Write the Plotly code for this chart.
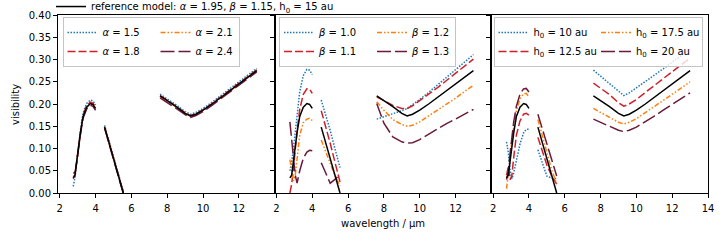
import plotly.graph_objects as go

# wavelength grids of the three spectral segments (micron)
wl_a = [2.75, 2.85, 2.95, 3.05, 3.15, 3.3, 3.5, 3.7, 3.85, 4.0]
wl_b = [4.5, 4.75, 5.0, 5.25, 5.55]
wl_c = [7.6, 8.0, 8.5, 9.0, 9.3, 9.6, 10.0, 10.5, 11.0, 11.5, 12.0, 12.5, 13.0]

# reference model (alpha=1.95, beta=1.15, h0=15 au)
ref_a = [0.034, 0.040, 0.072, 0.105, 0.135, 0.172, 0.193, 0.201, 0.199, 0.190]
ref_b = [0.148, 0.113, 0.078, 0.043, 0.000]
ref_c = [0.218, 0.208, 0.194, 0.179, 0.173, 0.177, 0.186, 0.200, 0.215, 0.230, 0.245, 0.260, 0.275]

# panel 1: alpha
alpha_labels = ["1.5", "1.8", "2.1", "2.4"]
alpha_a = [
    [0.015, 0.035, 0.072, 0.108, 0.140, 0.180, 0.201, 0.209, 0.207, 0.198],
    [0.032, 0.042, 0.073, 0.106, 0.137, 0.175, 0.196, 0.204, 0.202, 0.193],
    [0.036, 0.041, 0.071, 0.104, 0.134, 0.171, 0.192, 0.200, 0.198, 0.189],
    [0.045, 0.046, 0.070, 0.102, 0.131, 0.168, 0.189, 0.197, 0.195, 0.186],
]
alpha_b = [
    [0.152, 0.117, 0.082, 0.046, 0.004],
    [0.149, 0.114, 0.079, 0.043, 0.001],
    [0.147, 0.112, 0.077, 0.041, -0.001],
    [0.146, 0.111, 0.076, 0.040, -0.002],
]
alpha_c = [
    [0.222, 0.212, 0.198, 0.183, 0.177, 0.181, 0.190, 0.204, 0.219, 0.234, 0.249, 0.264, 0.280],
    [0.219, 0.209, 0.195, 0.180, 0.174, 0.178, 0.187, 0.201, 0.216, 0.231, 0.246, 0.261, 0.277],
    [0.217, 0.207, 0.193, 0.178, 0.172, 0.176, 0.185, 0.199, 0.214, 0.229, 0.244, 0.259, 0.274],
    [0.214, 0.204, 0.190, 0.176, 0.170, 0.174, 0.183, 0.197, 0.212, 0.227, 0.242, 0.257, 0.272],
]

# panel 2: beta
beta_labels = ["1.0", "1.1", "1.2", "1.3"]
beta_a = [
    [0.050, 0.070, 0.100, 0.140, 0.180, 0.228, 0.264, 0.278, 0.276, 0.266],
    [0.000, 0.020, 0.055, 0.100, 0.140, 0.188, 0.222, 0.234, 0.234, 0.224],
    [0.075, 0.050, 0.027, 0.040, 0.080, 0.130, 0.158, 0.166, 0.168, 0.163],
    [0.160, 0.125, 0.080, 0.040, 0.022, 0.050, 0.078, 0.092, 0.096, 0.095],
]
beta_b = [
    [0.209, 0.176, 0.141, 0.102, 0.057],
    [0.185, 0.150, 0.112, 0.072, 0.025],
    [0.119, 0.093, 0.067, 0.041, 0.016],
    [0.068, 0.044, 0.022, 0.030, 0.041],
]
beta_c = [
    [0.166, 0.171, 0.178, 0.185, 0.190, 0.198, 0.210, 0.226, 0.243, 0.260, 0.277, 0.294, 0.311],
    [0.216, 0.207, 0.197, 0.190, 0.190, 0.196, 0.207, 0.222, 0.237, 0.253, 0.269, 0.285, 0.301],
    [0.205, 0.186, 0.165, 0.154, 0.150, 0.152, 0.160, 0.173, 0.186, 0.199, 0.213, 0.228, 0.242],
    [0.201, 0.157, 0.126, 0.115, 0.112, 0.113, 0.120, 0.132, 0.144, 0.156, 0.166, 0.177, 0.188],
]

# panel 3: h0
h0_labels = ["10", "12.5", "17.5", "20"]
h0_a = [
    [0.115, 0.090, 0.050, 0.032, 0.045, 0.075, 0.110, 0.135, 0.143, 0.143],
    [0.040, 0.060, 0.030, 0.040, 0.080, 0.130, 0.162, 0.177, 0.179, 0.175],
    [0.010, 0.040, 0.080, 0.120, 0.150, 0.185, 0.212, 0.223, 0.224, 0.215],
    [0.030, 0.050, 0.090, 0.130, 0.160, 0.195, 0.222, 0.234, 0.235, 0.227],
]
h0_b = [
    [0.097, 0.065, 0.038, 0.034, 0.032],
    [0.125, 0.095, 0.063, 0.040, 0.020],
    [0.165, 0.128, 0.090, 0.055, 0.020],
    [0.177, 0.143, 0.108, 0.073, 0.038],
]
h0_c = [
    [0.276, 0.263, 0.247, 0.229, 0.219, 0.225, 0.236, 0.250, 0.265, 0.279, 0.294, 0.309, 0.323],
    [0.247, 0.236, 0.221, 0.203, 0.195, 0.200, 0.210, 0.226, 0.241, 0.257, 0.272, 0.288, 0.303],
    [0.190, 0.181, 0.170, 0.159, 0.155, 0.159, 0.167, 0.180, 0.194, 0.208, 0.222, 0.236, 0.250],
    [0.166, 0.159, 0.150, 0.141, 0.138, 0.141, 0.148, 0.160, 0.173, 0.186, 0.199, 0.212, 0.225],
]

colors = ["#1f77b4", "#d0202a", "#ff7f0e", "#6a1a3a"]
dashes = ["1.5px,1.5px", "8px,3px", "5px,2px,1.5px,2px,1.5px,2px", "14px,4px"]

FONT = "DejaVu Sans"


def join(a, b, c):
    xs = list(wl_a) + [None] + list(wl_b) + [None] + list(wl_c)
    ys = list(a) + [None] + list(b) + [None] + list(c)
    return xs, ys


fig = go.Figure()

panels = [
    ("<i>α</i> = {}", alpha_labels, alpha_a, alpha_b, alpha_c, (48, 38)),
    ("<i>β</i> = {}", beta_labels, beta_a, beta_b, beta_c, (48, 38)),
    ("h<sub>0</sub> = {} au", h0_labels, h0_a, h0_b, h0_c, (57.5, 60)),
]

for p, (fmt, labels, A, B, C, lw) in enumerate(panels):
    xa = "x" if p == 0 else f"x{p+1}"
    ya = "y" if p == 0 else f"y{p+1}"
    leg = f"legend{p+2}"
    for i in range(4):
        xs, ys = join(A[i], B[i], C[i])
        fig.add_trace(go.Scatter(
            x=xs, y=ys, mode="lines", xaxis=xa, yaxis=ya,
            line=dict(color=colors[i], width=1.5, dash=dashes[i]),
            name=fmt.format(labels[i]), legend=leg,
            legendgroup=f"p{p}c{i // 2}", showlegend=True,
            legendwidth=lw[i // 2],
        ))
    xs, ys = join(ref_a, ref_b, ref_c)
    fig.add_trace(go.Scatter(
        x=xs, y=ys, mode="lines", xaxis=xa, yaxis=ya,
        line=dict(color="black", width=1.5),
        name="reference model: <i>α</i> = 1.95, <i>β</i> = 1.15, h<sub>0</sub> = 15 au",
        legend="legend", showlegend=(p == 0),
    ))

W, H = 724, 241
L, R, T, B = 58, 16, 14.5, 47.7
pw = W - L - R
ph = H - T - B


def px(x):
    return (x - L) / pw


def py(y):
    return 1 - (y - T) / ph


axis_common = dict(showline=True, mirror=True, linecolor="black", linewidth=1,
                   ticks="outside", ticklen=4, tickwidth=1, tickcolor="black",
                   showgrid=False, zeroline=False,
                   tickfont=dict(family=FONT, size=10, color="black"))

doms = [[0, 1/3], [1/3, 2/3], [2/3, 1]]
for p in range(3):
    xkey = "xaxis" if p == 0 else f"xaxis{p+1}"
    ykey = "yaxis" if p == 0 else f"yaxis{p+1}"
    tv = [2, 4, 6, 8, 10, 12] if p < 2 else [2, 4, 6, 8, 10, 12, 14]
    fig.layout[xkey] = dict(domain=doms[p], range=[1.9, 14.0], tickvals=tv,
                            ticklabelstandoff=2,
                            anchor="y" if p == 0 else f"y{p+1}", **axis_common)
    fig.layout[ykey] = dict(domain=[0, 1], range=[0, 0.40],
                            tickvals=[0, 0.05, 0.1, 0.15, 0.2, 0.25, 0.3, 0.35, 0.4],
                            tickformat=".2f", showticklabels=(p == 0),
                            anchor="x" if p == 0 else f"x{p+1}", **axis_common)
# inward ticks on the right edge of the last panel
fig.layout["yaxis4"] = dict(overlaying="y3", anchor="x3", side="right", range=[0, 0.40],
                            tickvals=[0, 0.05, 0.1, 0.15, 0.2, 0.25, 0.3, 0.35, 0.4],
                            ticks="inside", ticklen=4, tickcolor="black",
                            showticklabels=False, showgrid=False, zeroline=False,
                            showline=False)

legbox = dict(bgcolor="rgba(255,255,255,0.8)", bordercolor="#c4c4c4", borderwidth=1,
              orientation="h", traceorder="grouped", yanchor="top", xanchor="left",
              font=dict(family=FONT, size=10, color="black"), itemwidth=30)

leg_top = 16.5
fig.update_layout(
    width=W, height=H,
    margin=dict(l=L, r=R, t=T, b=B, autoexpand=False),
    paper_bgcolor="white", plot_bgcolor="white",
    font=dict(family=FONT, size=10, color="black"),
    legend=dict(x=px(51), y=py(6), xanchor="left", yanchor="middle",
                bgcolor="rgba(0,0,0,0)", borderwidth=0, orientation="h",
                font=dict(family=FONT, size=10, color="black"), itemwidth=30),
    legend2=dict(x=px(62.5), y=py(leg_top), **legbox),
    legend3=dict(x=px(279), y=py(leg_top), **legbox),
    legend4=dict(x=px(493.5), y=py(leg_top), **legbox),
    annotations=[
        dict(text="wavelength / μm", x=0.5, y=py(224), xref="paper", yref="paper",
             xanchor="center", yanchor="middle", showarrow=False,
             font=dict(family=FONT, size=10, color="black")),
        dict(text="visibility", x=px(15), y=0.5, xref="paper", yref="paper",
             xanchor="center", yanchor="middle", textangle=-90, showarrow=False,
             font=dict(family=FONT, size=10, color="black")),
    ],
)

fig.write_html("out.html", config={"displayModeBar": False},
               post_script="document.body.style.margin='0px';")
